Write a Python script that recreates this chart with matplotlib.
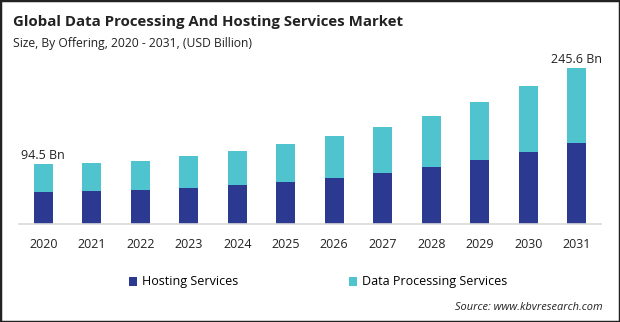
import matplotlib.pyplot as plt
from matplotlib.patches import Rectangle

plt.rcParams['font.family'] = ['Open Sans', 'DejaVu Sans']

# values in USD billion
years = ['2020', '2021', '2022', '2023', '2024', '2025',
         '2026', '2027', '2028', '2029', '2030', '2031']
hosting = [50.4, 52.0, 53.5, 56.7, 61.4, 66.1, 73.0, 80.3, 89.8, 100.8, 113.4, 127.6]
data_processing = [44.1, 44.1, 45.7, 50.4, 53.6, 59.9, 65.6, 72.5, 80.3, 91.4, 104.0, 118.0]
end_labels = {0: '94.5 Bn', 11: '245.6 Bn'}

navy = '#2b3990'
teal = '#4fc3ce'

fig = plt.figure(figsize=(6.2, 3.22), dpi=100)
ax = fig.add_axes([19 / 620, 1 - 224 / 322, 582 / 620, 170 / 322])

x = range(len(years))
ax.bar(x, hosting, width=0.39, color=navy, label='Hosting Services')
ax.bar(x, data_processing, width=0.39, bottom=hosting, color=teal,
       label='Data Processing Services')

for i, txt in end_labels.items():
    total = hosting[i] + data_processing[i]
    ax.text(i, total + 3, txt, ha='center', va='bottom', fontsize=9, color='#222222')

ax.set_xlim(-0.5, 11.5)
ax.set_ylim(0, 245.6 * 170 / 156)
ax.set_xticks(list(x))
ax.set_xticklabels(years, fontsize=9, color='#222222')
ax.tick_params(axis='x', length=0, pad=10)
ax.set_yticks([])
for s in ['top', 'right', 'left']:
    ax.spines[s].set_visible(False)
ax.spines['bottom'].set_color('#d9d9d9')
ax.spines['bottom'].set_linewidth(1.2)

fig.text(13 / 620, 1 - 22 / 322, 'Global Data Processing And Hosting Services Market',
         fontsize=10.8, fontweight='bold', color='#222222', va='center')
fig.text(13 / 620, 1 - 43 / 322, 'Size, By Offering, 2020 - 2031, (USD Billion)',
         fontsize=8.7, color='#222222', va='center')

fig.legend(loc='center', bbox_to_anchor=(318 / 620, 1 - 282 / 322), ncol=2,
           frameon=False, fontsize=9, handlelength=0.7, handleheight=0.7,
           handletextpad=0.4, columnspacing=8.8)

fig.text(603 / 620, 1 - 308 / 322, 'Source: www.kbvresearch.com', fontsize=7.9,
         style='italic', ha='right', va='center', color='#222222')

fig.patches.append(Rectangle((0, 0), 1, 1, transform=fig.transFigure, fill=False,
                             edgecolor='#222222', linewidth=2.5))

fig.savefig('out.png', dpi=100)
